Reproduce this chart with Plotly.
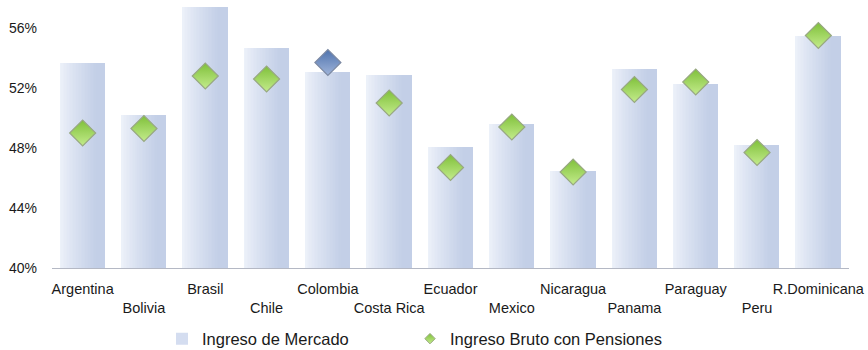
import plotly.graph_objects as go

countries = ["Argentina", "Bolivia", "Brasil", "Chile", "Colombia", "Costa Rica",
             "Ecuador", "Mexico", "Nicaragua", "Panama", "Paraguay", "Peru", "R.Dominicana"]
ingreso_mercado = [53.7, 50.2, 57.4, 54.7, 53.1, 52.9, 48.1, 49.6, 46.5, 53.3, 52.3, 48.2, 55.5]
ingreso_pensiones = [49.0, 49.3, 52.8, 52.6, 53.7, 51.0, 46.7, 49.4, 46.4, 51.9, 52.4, 47.7, 55.5]
highlight = "Colombia"

y_ticks = [40, 44, 48, 52, 56]
y_tick_labels = ["40%", "44%", "48%", "52%", "56%"]

FONT = "Liberation Sans"
fig = go.Figure()

# Bars with a left-to-right light gradient, built from thin overlaid slices
bar_width = 0.73
n_slices = 30
light = (238, 242, 250)
dark = (195, 207, 231)
for i in range(n_slices):
    t = min(1.0, ((i + 0.5) / (n_slices * 0.8)) ** 0.85)
    c = tuple(round(light[k] + (dark[k] - light[k]) * t) for k in range(3))
    w = bar_width / n_slices
    fig.add_trace(go.Bar(
        x=list(range(len(countries))), y=[v - 40 for v in ingreso_mercado], base=40,
        width=w * 1.2 if i < n_slices - 1 else w, offset=-bar_width / 2 + i * w,
        marker=dict(color="rgb(%d,%d,%d)" % c, line=dict(width=0)),
        showlegend=False, hoverinfo="skip",
    ))

# Legend entry for the bars
fig.add_trace(go.Bar(
    x=[None], y=[None], name="Ingreso de Mercado", legend="legend",
    marker=dict(color="rgb(212,221,240)", line=dict(width=0)),
))

marker_colors = ["#4f73ad" if c == highlight else "#7fc03a" for c in countries]
gradient_colors = ["#9fb4da" if c == highlight else "#c4ec8c" for c in countries]
border_colors = ["#7d8aa3" if c == highlight else "#98a882" for c in countries]
fig.add_trace(go.Scatter(
    x=list(range(len(countries))), y=ingreso_pensiones, mode="markers",
    marker=dict(symbol="diamond", size=20, color=marker_colors,
                gradient=dict(type="vertical", color=gradient_colors),
                line=dict(color=border_colors, width=1.2)),
    showlegend=False,
))
# Legend entry for the diamonds
fig.add_trace(go.Scatter(
    x=[None], y=[None], mode="markers", name="Ingreso Bruto con Pensiones", legend="legend2",
    marker=dict(symbol="diamond", size=8, color="#7fc03a",
                gradient=dict(type="vertical", color="#c4ec8c"),
                line=dict(color="#98a882", width=1)),
))

tick_text = [c if i % 2 == 0 else "<br>" + c for i, c in enumerate(countries)]

PLOT_L, PLOT_W = 52, 868 - 52 - 19


def px_to_paper(px):
    return (px - PLOT_L) / PLOT_W


legend_style = dict(orientation="h", yanchor="top", y=-0.2, xanchor="left",
                    font=dict(size=16.5), itemwidth=30, bgcolor="rgba(0,0,0,0)")

fig.update_layout(
    width=868, height=350,
    margin=dict(l=PLOT_L, r=19, t=1, b=82, autoexpand=False),
    paper_bgcolor="white", plot_bgcolor="white",
    barmode="overlay", bargap=0,
    font=dict(family=FONT, size=14, color="#1a1a1a"),
    xaxis=dict(
        range=[-0.5, len(countries) - 0.5],
        tickmode="array", tickvals=list(range(len(countries))), ticktext=tick_text,
        tickangle=0, tickfont=dict(size=14.5), ticklabeloverflow="allow",
        showgrid=False, zeroline=False, showline=True, linecolor="#b4b8c4", linewidth=1,
        ticks="", ticklabelstandoff=8, fixedrange=True,
    ),
    yaxis=dict(
        range=[40, 57.8], tickmode="array", tickvals=y_ticks, ticktext=y_tick_labels,
        tickfont=dict(size=14),
        showgrid=False, zeroline=False, showline=False, ticks="",
        ticklabelstandoff=14, fixedrange=True,
    ),
    legend=dict(x=px_to_paper(162), **legend_style),
    legend2=dict(x=px_to_paper(410), **legend_style),
)

fig.write_html("out.html")
